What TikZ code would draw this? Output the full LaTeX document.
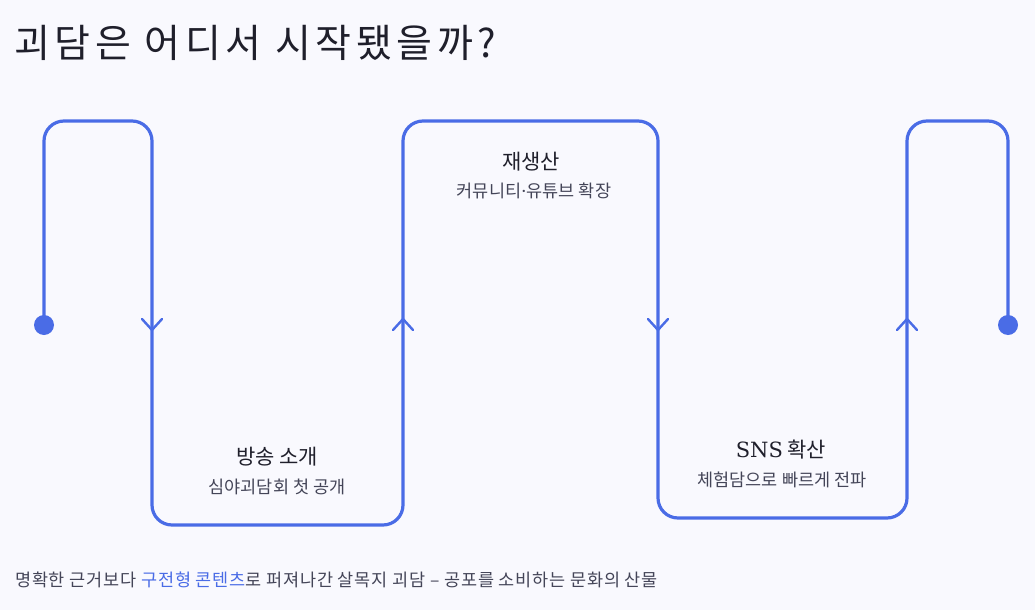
\documentclass[tikz,border=0pt]{standalone}
\usepackage{fontspec}
\setmainfont{Noto Sans CJK KR}
\newfontfamily\snsfont{DejaVu Serif}
\newfontfamily\headfont[LetterSpace=12]{Noto Sans CJK KR}
\newfontfamily\footfont[LetterSpace=4.5]{Noto Sans CJK KR}
\usetikzlibrary{positioning}
\definecolor{pathblue}{RGB}{74,108,230}
\definecolor{bgtint}{RGB}{249,249,254}
\definecolor{inkdark}{RGB}{31,31,43}
\definecolor{inkgray}{RGB}{68,69,88}
\tikzstyle{route} = [draw=pathblue, line width=3.2pt, rounded corners=20pt]
\tikzstyle{chevron} = [draw=pathblue, line width=2.4pt, line cap=round, line join=miter]
\tikzstyle{stagetitle} = [inner sep=0pt, anchor=base, text=inkdark, font=\fontsize{21}{25}\selectfont]
\tikzstyle{stagenote} = [inner sep=0pt, anchor=base, text=inkgray, font=\fontsize{17.5}{21}\selectfont]

\begin{document}
\begin{tikzpicture}[x=1pt,y=-1pt]
\fill[bgtint] (0,0) rectangle (1035,610);
\useasboundingbox (0,0) rectangle (1035,610);

% heading
\node[inner sep=0pt, anchor=base west, text=inkdark, font=\headfont\fontsize{39}{46}\selectfont] (heading) at (14,57) {괴담은 어디서 시작됐을까?};

% route points
\coordinate (start) at (44,325);
\coordinate (finish) at (1008,325);
\draw[route] (start) -- (44,121) -- (152,121) -- (152,525) -- (403,525) -- (403,121)
  -- (658,121) -- (658,518) -- (907,518) -- (907,121) -- (1008,121) -- (finish);
\fill[pathblue] (start) circle (10);
\fill[pathblue] (finish) circle (10);

% direction marks
\foreach \x in {152,658}
  \draw[chevron] (\x-10,319) -- (\x,330) -- (\x+10,319);
\foreach \x in {403,907}
  \draw[chevron] (\x-10,330) -- (\x,319) -- (\x+10,330);

% stages
\node[stagetitle] (broadcast) at (277,464) {방송 소개};
\node[stagenote] (broadcastnote) at (277,493) {심야괴담회 첫 공개};
\node[stagetitle] (remake) at (531,169) {재생산};
\node[stagenote] (remakenote) at (534,197) {커뮤니티{\snsfont ·}유튜브 확장};
\node[stagetitle] (sns) at (781,457) {{\snsfont SNS} 확산};
\node[stagenote] (snsnote) at (782,486) {체험담으로 빠르게 전파};

% footer
\node[inner sep=0pt, anchor=base west, text=inkgray, font=\footfont\fontsize{17.5}{21}\selectfont] (footer) at (15,586)
  {명확한 근거보다 \textcolor{pathblue}{구전형 콘텐츠}로 퍼져나간 살목지 괴담 – 공포를 소비하는 문화의 산물};
\end{tikzpicture}
\end{document}
